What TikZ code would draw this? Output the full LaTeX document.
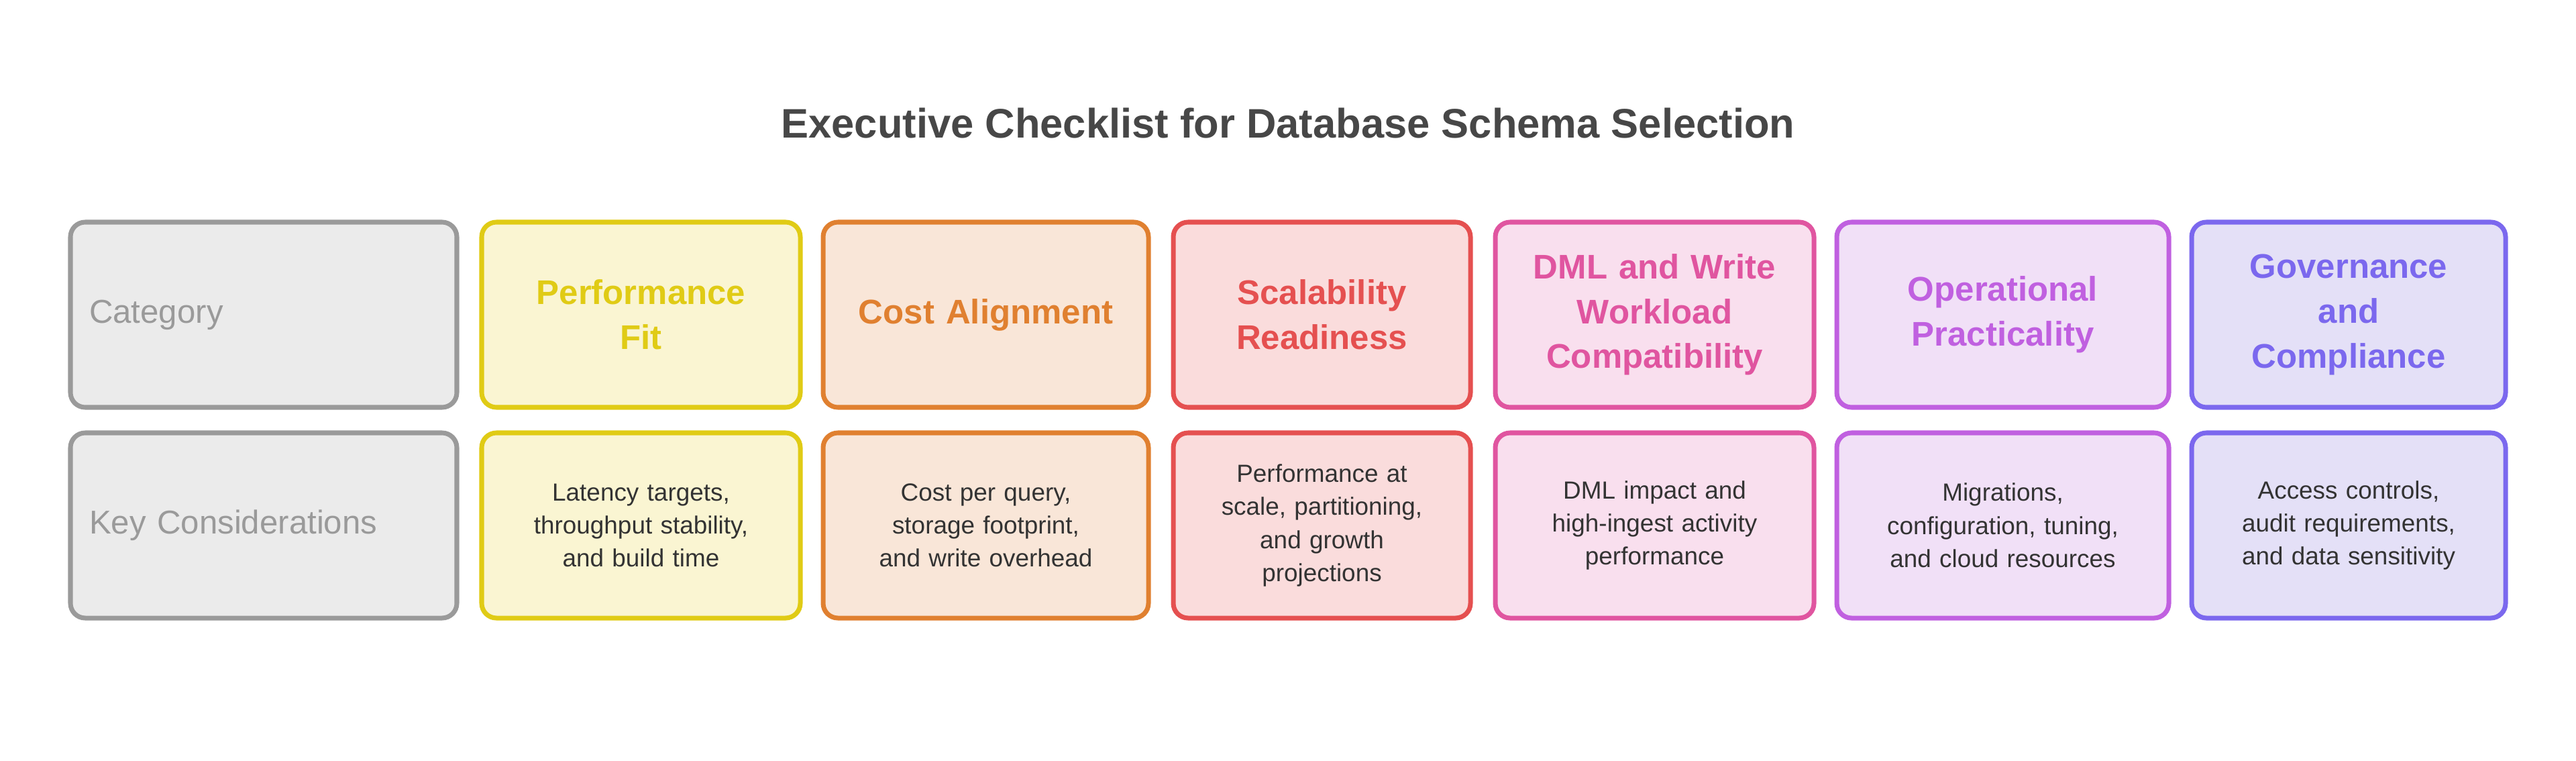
\documentclass[tikz,border=0pt]{standalone}
\usepackage{fontspec}
\setmainfont{Liberation Sans}
\definecolor{grayline}{HTML}{9A9A9A}\definecolor{grayfill}{HTML}{EBEBEB}
\definecolor{yelline}{HTML}{E0CB15}\definecolor{yelfill}{HTML}{FAF5D2}
\definecolor{oraline}{HTML}{E08030}\definecolor{orafill}{HTML}{F9E6D8}
\definecolor{redline}{HTML}{E55050}\definecolor{redfill}{HTML}{FADCDC}
\definecolor{pinkline}{HTML}{E055A0}\definecolor{pinkfill}{HTML}{F9DFEE}
\definecolor{purline}{HTML}{C060E0}\definecolor{purfill}{HTML}{F1E0F7}
\definecolor{indline}{HTML}{7B68EE}\definecolor{indfill}{HTML}{E4E0F7}
\tikzset{cell/.style={
  shape=rectangle,
  rounded corners=0.22cm,
  line width=2pt,
  draw=#1line,
  fill=#1fill,
  minimum height=2.76cm,
  align=center,
  },
  head/.style={cell=#1, text=#1line, font=\fontsize{14.5}{19}\selectfont\bfseries},
  body/.style={cell=#1, text={black!80}, font=\fontsize{10.5}{14}\selectfont},
  }

\begin{document}
\begin{tikzpicture}[]
  \useasboundingbox (0,0) rectangle (38.4,11.33);
  \node[font=\fontsize{17.5}{21}\selectfont\bfseries, text={black!72}] (title) at (19.2,9.49)
    {Executive Checklist for Database Schema Selection};
  % row labels
  \node[cell=gray, minimum width=5.76cm, text width=5.2cm, align=left, text=grayline,
    font=\fontsize{14}{18}\selectfont] (cat) at (3.93,6.64) {Category};
  \node[cell=gray, minimum width=5.76cm, text width=5.2cm, align=left, text=grayline,
    font=\fontsize{14}{18}\selectfont] (key) at (3.93,3.50) {Key Considerations};
  % headers
  \node[head=yel, minimum width=4.75cm, text width=4.2cm] (perf) at (9.555,6.64) {Performance\\Fit};
  \node[head=ora, minimum width=4.85cm, text width=4.3cm] (cost) at (14.695,6.64) {Cost Alignment};
  \node[head=red, minimum width=4.43cm, text width=3.9cm] (scal) at (19.705,6.64) {Scalability\\Readiness};
  \node[head=pink, minimum width=4.75cm, text width=4.2cm] (dml) at (24.665,6.64) {DML and Write\\Workload\\Compatibility};
  \node[head=pur, minimum width=4.95cm, text width=4.4cm] (oper) at (29.855,6.64) {Operational\\Practicality};
  \node[head=ind, minimum width=4.68cm, text width=4.1cm] (gov) at (35.01,6.64) {Governance\\and\\Compliance};
  % considerations
  \node[body=yel, minimum width=4.75cm, text width=4.4cm] (perfk) at (9.555,3.50) {Latency targets,\\throughput stability,\\and build time};
  \node[body=ora, minimum width=4.85cm, text width=4.5cm] (costk) at (14.695,3.50) {Cost per query,\\storage footprint,\\and write overhead};
  \node[body=red, minimum width=4.43cm, text width=4.1cm] (scalk) at (19.705,3.50) {Performance at\\scale, partitioning,\\and growth\\projections};
  \node[body=pink, minimum width=4.75cm, text width=4.4cm] (dmlk) at (24.665,3.50) {DML impact and\\high-ingest activity\\performance};
  \node[body=pur, minimum width=4.95cm, text width=4.6cm] (operk) at (29.855,3.50) {Migrations,\\configuration, tuning,\\and cloud resources};
  \node[body=ind, minimum width=4.68cm, text width=4.3cm] (govk) at (35.01,3.50) {Access controls,\\audit requirements,\\and data sensitivity};
\end{tikzpicture}
\end{document}
